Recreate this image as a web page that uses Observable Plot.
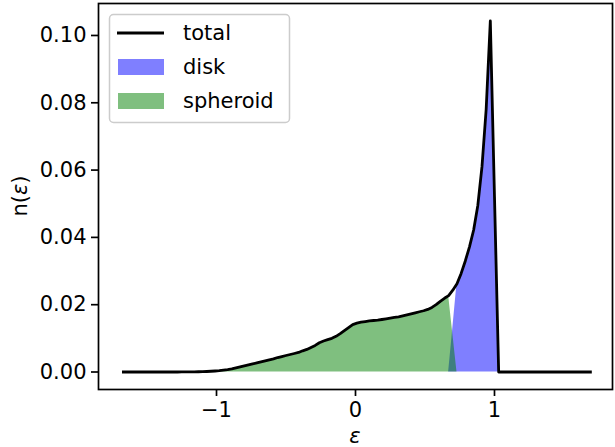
<!DOCTYPE html>
<html>
<head>
<meta charset="utf-8">
<script src="https://cdn.jsdelivr.net/npm/d3@7"></script>
<script src="https://cdn.jsdelivr.net/npm/@observablehq/plot@0.6"></script>
<style>
  html, body { margin: 0; padding: 0; background: #fff; }
  #chart { position: relative; width: 615px; height: 447px; font-family: "DejaVu Sans", sans-serif; }
  #chart svg { display: block; }
  #legend { position: absolute; left: 0; top: 0; pointer-events: none; }
</style>
</head>
<body>
<div id="chart"></div>
<script>
// Orbital circularity grid (epsilon) and the distribution n(epsilon) per component
const eps = [
  -1.67, -1.64, -1.61, -1.58, -1.55, -1.52, -1.49, -1.46, -1.43, -1.40,
  -1.37, -1.34, -1.31, -1.28, -1.25, -1.22, -1.19, -1.16, -1.13, -1.10,
  -1.07, -1.04, -1.01, -0.98, -0.95, -0.92, -0.89, -0.86, -0.83, -0.80,
  -0.77, -0.74, -0.71, -0.68, -0.65, -0.62, -0.59, -0.56, -0.53, -0.50,
  -0.47, -0.44, -0.41, -0.38, -0.35, -0.32, -0.29, -0.26, -0.23, -0.20,
  -0.17, -0.14, -0.11, -0.08, -0.05, -0.02, 0.01, 0.04, 0.07, 0.10,
  0.13, 0.16, 0.19, 0.22, 0.25, 0.28, 0.31, 0.34, 0.37, 0.40,
  0.43, 0.46, 0.49, 0.52, 0.55, 0.58, 0.61, 0.64, 0.67, 0.70,
  0.73, 0.76, 0.79, 0.82, 0.85, 0.88, 0.91, 0.94, 0.97, 1.00,
  1.03, 1.06, 1.09, 1.12, 1.15, 1.18, 1.21, 1.24, 1.27, 1.30,
  1.33, 1.36, 1.39, 1.42, 1.45, 1.48, 1.51, 1.54, 1.57, 1.60,
  1.63, 1.66, 1.69
];

const spheroid = [
  0, 0, 0, 0, 0, 0, 0, 0, 0, 0,
  0, 0, 0, 0, 0.00001, 0.00002, 0.00003, 0.00005, 0.00007, 0.0001,
  0.00015, 0.00022, 0.0003, 0.0004, 0.00055, 0.0007, 0.0009, 0.0012, 0.0015, 0.0018,
  0.0021, 0.0024, 0.0027, 0.0030, 0.0033, 0.0036, 0.0039, 0.0043, 0.0046, 0.0049,
  0.0052, 0.0055, 0.0058, 0.0063, 0.0067, 0.0073, 0.0079, 0.0087, 0.0092, 0.0096,
  0.0100, 0.0106, 0.0114, 0.0123, 0.0132, 0.0141, 0.0145, 0.0148, 0.0150, 0.0152,
  0.0153, 0.0154, 0.0156, 0.0158, 0.0160, 0.0162, 0.0164, 0.0167, 0.0170, 0.0173,
  0.0176, 0.0179, 0.0182, 0.0186, 0.0192, 0.0200, 0.0210, 0.0219, 0.0227, 0.0114,
  0, 0, 0, 0, 0, 0, 0, 0, 0, 0,
  0, 0, 0, 0, 0, 0, 0, 0, 0, 0,
  0, 0, 0, 0, 0, 0, 0, 0, 0, 0,
  0, 0, 0
];

const disk = [
  0, 0, 0, 0, 0, 0, 0, 0, 0, 0,
  0, 0, 0, 0, 0, 0, 0, 0, 0, 0,
  0, 0, 0, 0, 0, 0, 0, 0, 0, 0,
  0, 0, 0, 0, 0, 0, 0, 0, 0, 0,
  0, 0, 0, 0, 0, 0, 0, 0, 0, 0,
  0, 0, 0, 0, 0, 0, 0, 0, 0, 0,
  0, 0, 0, 0, 0, 0, 0, 0, 0, 0,
  0, 0, 0, 0, 0, 0, 0, 0, 0, 0.0129,
  0.0262, 0.0293, 0.0330, 0.0372, 0.0422, 0.0495, 0.0610, 0.0780, 0.1043, 0.0520,
  0, 0, 0, 0, 0, 0, 0, 0, 0, 0,
  0, 0, 0, 0, 0, 0, 0, 0, 0, 0,
  0, 0, 0
];

const seriesNames = ["total", "disk", "spheroid"];
const seriesColors = ["black", "blue", "green"];

const xTicks = [-1, 0, 1];
const xTickLabels = ["\u22121", "0", "1"];
const yTicks = [0, 0.02, 0.04, 0.06, 0.08, 0.10];
const yTickLabels = ["0.00", "0.02", "0.04", "0.06", "0.08", "0.10"];

// Rows for the marks: total is the sum of both components
const rows = eps.map((e, i) => ({
  eps: e,
  disk: disk[i],
  spheroid: spheroid[i],
  total: disk[i] + spheroid[i]
}));

const W = 615, H = 447;
const font = "DejaVu Sans";

const chart = Plot.plot({
  width: W,
  height: H,
  marginLeft: 98,
  marginRight: 3,
  marginTop: 3,
  marginBottom: 58,
  style: { fontFamily: font, fontSize: "21px", color: "black", background: "white", overflow: "visible" },
  x: { domain: [-1.849, 1.849] },
  y: { domain: [-0.0052, 0.1095] },
  marks: [
    Plot.areaY(rows, { x: "eps", y1: 0, y2: "disk", fill: seriesColors[1], fillOpacity: 0.5 }),
    Plot.areaY(rows, { x: "eps", y1: 0, y2: "spheroid", fill: seriesColors[2], fillOpacity: 0.5 }),
    Plot.line(rows, { x: "eps", y: "total", stroke: seriesColors[0], strokeWidth: 2.8, strokeLinecap: "square", strokeLinejoin: "round" }),
    Plot.frame({ stroke: "black", strokeWidth: 1.7 }),
    Plot.axisX({
      ticks: xTicks,
      tickFormat: d => xTickLabels[xTicks.indexOf(d)],
      tickSize: 7,
      tickPadding: 6,
      strokeWidth: 1.7,
      label: null
    }),
    Plot.axisY({
      ticks: yTicks,
      tickFormat: d => yTickLabels[yTicks.findIndex(t => Math.abs(t - d) < 1e-9)],
      tickSize: 7,
      tickPadding: 5,
      strokeWidth: 1.7,
      label: null
    })
  ]
});

const container = document.getElementById("chart");
container.appendChild(chart);

// Axis titles with an italic epsilon
const svg = d3.select(chart);
const xLabel = svg.append("text")
  .attr("x", 355).attr("y", 443)
  .attr("text-anchor", "middle")
  .attr("font-family", font).attr("font-size", 21).attr("fill", "black");
xLabel.append("tspan").attr("font-style", "italic").text("\u03b5");

const yLabel = svg.append("text")
  .attr("transform", "translate(27,196) rotate(-90)")
  .attr("text-anchor", "middle")
  .attr("font-family", font).attr("font-size", 21).attr("fill", "black");
yLabel.append("tspan").text("n(");
yLabel.append("tspan").attr("font-style", "italic").text("\u03b5");
yLabel.append("tspan").text(")");

// Legend box in the upper left corner of the axes
const leg = d3.select(container).append("svg")
  .attr("id", "legend")
  .attr("width", W).attr("height", H);
leg.append("rect")
  .attr("x", 109.5).attr("y", 14.5).attr("width", 180).attr("height", 108)
  .attr("rx", 4).attr("ry", 4)
  .attr("fill", "white").attr("fill-opacity", 0.8)
  .attr("stroke", "#cccccc").attr("stroke-width", 1.5);

const rowY = [33, 67, 101];
seriesNames.forEach((name, i) => {
  if (i === 0) {
    leg.append("line")
      .attr("x1", 117).attr("x2", 164).attr("y1", rowY[i]).attr("y2", rowY[i])
      .attr("stroke", seriesColors[i]).attr("stroke-width", 2.8);
  } else {
    leg.append("rect")
      .attr("x", 118).attr("y", rowY[i] - 8).attr("width", 46).attr("height", 16)
      .attr("fill", seriesColors[i]).attr("fill-opacity", 0.5);
  }
  leg.append("text")
    .attr("x", 183).attr("y", rowY[i])
    .attr("dy", "0.35em")
    .attr("font-family", font).attr("font-size", 21).attr("fill", "black")
    .text(name);
});
</script>
</body>
</html>
